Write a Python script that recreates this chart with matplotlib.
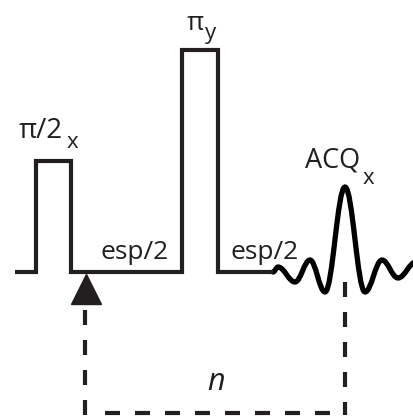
import matplotlib
matplotlib.use("Agg")
import matplotlib.pyplot as plt
from matplotlib.path import Path
from matplotlib.patches import PathPatch

# ---------------- data (diagram units: pixel-like, y grows downward) ----------
baseline_level = 272
line_start = 15
line_end = 273
pulse_start = [35.5, 181.5]
pulse_end = [70.5, 217.5]
pulse_top = [161, 50]

# extrema of the acquired echo (FID) waveform
fid_x = [273, 278, 295, 310, 325, 345, 365, 382, 398, 416]
fid_y = [272, 267, 282, 260, 292, 187, 292, 260, 278, 262]

trigger_x = 86
loop_left = 85
loop_right = 345
loop_bottom = 413

labels = ["\u03c0/2", "\u03c0", "ACQ", "esp/2", "esp/2"]
subs = ["x", "y", "x"]

# ---------------- drawing ----------------
INK = "#231f20"
FONT = "Open Sans"

fig = plt.figure(figsize=(4.13, 4.18), dpi=100)
ax = fig.add_axes([0, 0, 1, 1])
ax.set_xlim(0, 413)
ax.set_ylim(418, 0)
ax.axis("off")

# pulse train
xs = [line_start]
ys = [baseline_level]
for s, e, t in zip(pulse_start, pulse_end, pulse_top):
    xs += [s, s, e, e]
    ys += [baseline_level, t, t, baseline_level]
xs.append(line_end)
ys.append(baseline_level)
ax.plot(xs, ys, color=INK, lw=3, solid_joinstyle="miter", solid_capstyle="butt")

# FID: smooth curve through extrema (horizontal tangents)
k = 0.38
verts = [(fid_x[0], fid_y[0])]
codes = [Path.MOVETO]
for i in range(1, len(fid_x)):
    x0, y0 = fid_x[i - 1], fid_y[i - 1]
    x1, y1 = fid_x[i], fid_y[i]
    dx = x1 - x0
    verts += [(x0 + k * dx, y0), (x1 - k * dx, y1), (x1, y1)]
    codes += [Path.CURVE4] * 3
ax.add_patch(PathPatch(Path(verts, codes), fill=False, lw=3.8,
                       edgecolor="black", capstyle="round", joinstyle="round"))

# trigger arrow
ax.plot([trigger_x], [289], marker="^", markersize=21, color=INK, lw=0)

# dashed loop
dash = (0, (3.6, 3.6))
ax.plot([loop_left, loop_left], [310, loop_bottom + 1.5], color=INK, lw=3,
        linestyle=dash, dash_capstyle="butt")
ax.plot([loop_right, loop_right], [282, loop_bottom + 1.5], color=INK, lw=3,
        linestyle=dash, dash_capstyle="butt")
ax.plot([105, loop_right - 5], [loop_bottom, loop_bottom], color=INK, lw=3,
        linestyle=dash, dash_capstyle="butt")

# labels
def txt(x, y, s, size, style="normal"):
    ax.text(x, y, s, fontsize=size, color=INK, family=[FONT, "DejaVu Sans"],
            ha="left", va="baseline", fontstyle=style)

txt(19, 138, labels[0], 20)
txt(67, 148, subs[0], 16)
txt(187, 30, labels[1], 19)
txt(205, 39, subs[1], 16)
txt(305, 168, labels[2], 19.5)
txt(363, 184, subs[2], 16)
txt(101, 259, labels[3], 19)
txt(231, 259, labels[4], 19)
txt(207, 390, "n", 22, style="italic")

fig.savefig("out.png", dpi=100)
